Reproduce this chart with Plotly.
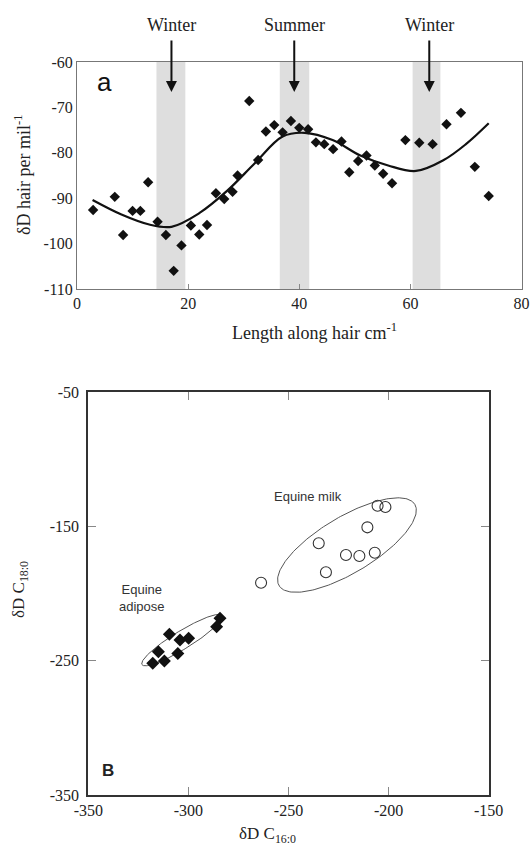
import numpy as np
import plotly.graph_objects as go

# ---------------- Panel a: hair profile ----------------
hair_length = [2.9, 6.8, 8.3, 10.0, 11.4, 12.8, 14.5, 16.0, 17.4, 18.8, 20.5, 22.0, 23.4,
               25.0, 26.5, 28.0, 28.9, 31.0, 32.6, 34.0, 35.5, 37.0, 38.5, 40.0, 41.6,
               43.0, 44.5, 46.1, 47.6, 49.0, 50.6, 52.1, 53.6, 55.1, 56.7, 59.1, 61.6,
               64.0, 66.5, 69.1, 71.6, 74.1]
hair_dD = [-92.6, -89.7, -98.1, -92.8, -92.8, -86.5, -95.2, -98.1, -106.0, -100.4, -96.0,
           -98.0, -95.9, -88.9, -90.2, -88.6, -85.0, -68.6, -81.6, -75.3, -73.9, -75.5,
           -73.0, -74.5, -74.8, -77.7, -78.1, -79.2, -77.5, -84.3, -81.8, -80.6, -82.8,
           -84.6, -86.7, -77.2, -77.8, -78.1, -73.7, -71.2, -83.1, -89.5]

fit_length = [2.8, 8, 13, 17, 22, 27, 32, 37, 41, 46, 51, 56, 61, 66, 70, 74.1]
fit_dD = [-90.4, -93.6, -95.8, -96.3, -93.3, -88.4, -82.3, -76.4, -75.6, -77.2, -80.6,
          -82.8, -84.0, -81.6, -78.1, -73.5]

season_bands = [(14.3, 19.5), (36.5, 41.8), (60.4, 65.4)]
season_labels = ["Winter", "Summer", "Winter"]
season_arrow_x = [17.0, 39.1, 63.4]

a_xticks = [0, 20, 40, 60, 80]
a_xticklabels = ["0", "20", "40", "60", "80"]
a_yticks = [-110, -100, -90, -80, -70, -60]
a_yticklabels = ["-110", "-100", "-90", "-80", "-70", "-60"]

# ---------------- Panel B: fatty acids ----------------
milk_c16 = [-263.7, -234.9, -231.3, -221.3, -214.6, -206.9, -210.6, -205.5, -201.6]
milk_c18 = [-191.9, -162.5, -184.1, -171.2, -172.0, -169.5, -150.6, -134.5, -135.5]
adipose_c16 = [-309.5, -304.2, -299.9, -284.2, -285.9, -315.0, -305.3, -312.0, -317.8]
adipose_c18 = [-230.3, -234.6, -233.3, -218.4, -224.7, -243.3, -244.5, -250.2, -251.9]

b_xticks = [-350, -300, -250, -200, -150]
b_xticklabels = ["-350", "-300", "-250", "-200", "-150"]
b_yticks = [-350, -250, -150, -50]
b_yticklabels = ["-350", "-250", "-150", "-50"]

# ellipses: centre and conjugate semi-axis vectors (data units)
milk_ellipse = dict(cx=-220.8, cy=-163.8, u=(33.9, 30.3), v=(-7.2, 17.9))
adipose_ellipse = dict(cx=-303.2, cy=-234.6, u=(20.0, 18.3), v=(-2.35, 5.72))

SERIF = "Liberation Serif"
SANS = "Liberation Sans"

W, H = 531, 848


def px(x):
    return x / W


def py(y):
    return 1 - y / H


fig = go.Figure()

# panel a
fig.add_trace(go.Scatter(x=hair_length, y=hair_dD, mode="markers",
                         marker=dict(symbol="diamond", size=8, color="#111"),
                         xaxis="x", yaxis="y", showlegend=False))
fig.add_trace(go.Scatter(x=fit_length, y=fit_dD, mode="lines",
                         line=dict(color="#111", width=2.2, shape="spline", smoothing=1.0),
                         xaxis="x", yaxis="y", showlegend=False))

# panel B ellipses
t = np.linspace(0, 2 * np.pi, 200)
for e in (milk_ellipse, adipose_ellipse):
    ex = e["cx"] + e["u"][0] * np.cos(t) + e["v"][0] * np.sin(t)
    ey = e["cy"] + e["u"][1] * np.cos(t) + e["v"][1] * np.sin(t)
    fig.add_trace(go.Scatter(x=ex, y=ey, mode="lines", line=dict(color="#555", width=1),
                             xaxis="x2", yaxis="y2", showlegend=False, hoverinfo="skip"))

fig.add_trace(go.Scatter(x=milk_c16, y=milk_c18, mode="markers",
                         marker=dict(symbol="circle-open", size=11, color="#333",
                                     line=dict(width=1.1)),
                         xaxis="x2", yaxis="y2", showlegend=False))
fig.add_trace(go.Scatter(x=adipose_c16, y=adipose_c18, mode="markers",
                         marker=dict(symbol="diamond", size=10, color="#111"),
                         xaxis="x2", yaxis="y2", showlegend=False))

shapes = []
for x0, x1 in season_bands:
    shapes.append(dict(type="rect", xref="x", yref="y domain", x0=x0, x1=x1, y0=0, y1=1,
                       fillcolor="#dedede", line=dict(width=0), layer="below"))

annotations = []
for lab, ax_x in zip(season_labels, season_arrow_x):
    annotations.append(dict(x=ax_x, y=-66.6, xref="x", yref="y", text=lab,
                            showarrow=True, arrowhead=2, arrowsize=1.1, arrowwidth=2,
                            arrowcolor="#111", ax=0, ay=-67, startstandoff=4, standoff=0,
                            font=dict(family=SERIF, size=18, color="#222")))
annotations += [
    dict(x=5.0, y=-64.4, xref="x", yref="y", text="a", showarrow=False,
         font=dict(family=SANS, size=26, color="#111")),
    dict(x=px(22), y=py(175), xref="paper", yref="paper",
         xanchor="center", yanchor="middle",
         text="δD hair per mil<sup>-1</sup>", textangle=-90, showarrow=False,
         font=dict(family=SERIF, size=18, color="#222")),
    dict(x=px(314), y=py(331), xref="paper", yref="paper",
         xanchor="center", yanchor="middle",
         text="Length along hair cm<sup>-1</sup>", showarrow=False,
         font=dict(family=SERIF, size=18, color="#222")),
    dict(x=-340.2, y=-331.4, xref="x2", yref="y2", text="<b>B</b>", showarrow=False,
         font=dict(family=SANS, size=17, color="#222")),
    dict(x=-240.1, y=-127.8, xref="x2", yref="y2", text="Equine milk", showarrow=False,
         font=dict(family=SANS, size=13, color="#333")),
    dict(x=-323.3, y=-203.5, xref="x2", yref="y2", text="Equine<br>adipose", showarrow=False,
         font=dict(family=SANS, size=13, color="#333")),
    dict(x=px(20), y=py(590), xref="paper", yref="paper",
         xanchor="center", yanchor="middle",
         text="δD C<sub>18:0</sub>", textangle=-90, showarrow=False,
         font=dict(family=SERIF, size=17, color="#222")),
    dict(x=px(267), y=py(835), xref="paper", yref="paper",
         xanchor="center", yanchor="middle",
         text="δD C<sub>16:0</sub>", showarrow=False,
         font=dict(family=SERIF, size=17, color="#222")),
]

tickfont = dict(family=SERIF, size=16, color="#222")

fig.update_layout(
    width=W, height=H, margin=dict(l=0, r=0, t=0, b=0, autoexpand=False),
    paper_bgcolor="white", plot_bgcolor="white", showlegend=False,
    shapes=shapes, annotations=annotations,
    xaxis=dict(domain=[px(77), px(521.5)], range=[0, 80],
               tickmode="array", tickvals=a_xticks, ticktext=a_xticklabels,
               showgrid=False, zeroline=False, showline=True, linecolor="#777", linewidth=1,
               mirror=True, ticks="inside", ticklen=5, tickcolor="#888", tickfont=tickfont,
               anchor="y", automargin=False, ticklabeloverflow="allow"),
    yaxis=dict(domain=[py(289), py(62)], range=[-110, -60],
               tickmode="array", tickvals=a_yticks, ticktext=a_yticklabels,
               showgrid=False, zeroline=False, showline=True, linecolor="#777", linewidth=1,
               mirror=True, ticks="", tickfont=tickfont, anchor="x", automargin=False,
               ticklabeloverflow="allow"),
    xaxis2=dict(domain=[px(88.3), px(488.7)], range=[-350, -150],
                tickmode="array", tickvals=b_xticks, ticktext=b_xticklabels,
                showgrid=False, zeroline=False, showline=True, linecolor="#333", linewidth=2,
                mirror="ticks", ticks="inside", ticklen=8, tickcolor="#888", tickfont=tickfont,
                anchor="y2", automargin=False, ticklabeloverflow="allow"),
    yaxis2=dict(domain=[py(795), py(392.3)], range=[-350, -50],
                tickmode="array", tickvals=b_yticks, ticktext=b_yticklabels,
                showgrid=False, zeroline=False, showline=True, linecolor="#333",
                linewidth=2, mirror="ticks", ticks="inside", ticklen=8, tickcolor="#888",
                tickfont=tickfont, anchor="x2", automargin=False, ticklabelstandoff=4,
                ticklabeloverflow="allow"),
)

fig.write_html("out.html",
               config={"displayModeBar": False},
               post_script="document.body.style.margin='0';"
                           "document.body.style.overflow='hidden';")
